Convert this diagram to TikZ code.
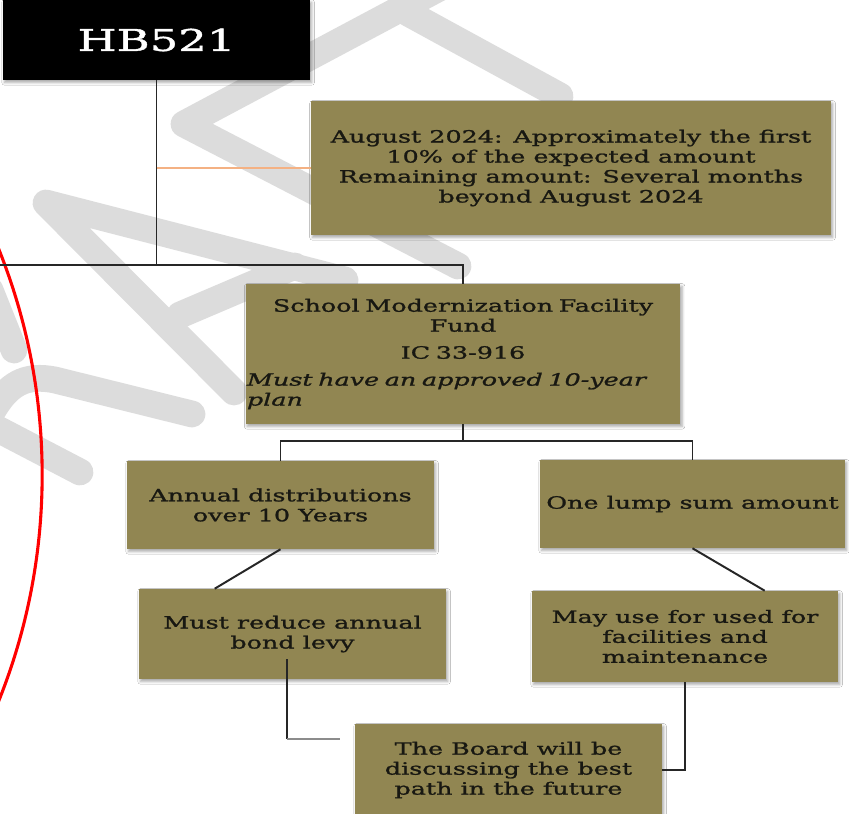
\documentclass[tikz,border=0pt]{standalone}
\usepackage{fontspec}
\setmainfont{DejaVu Serif}[FakeStretch=1.5, FakeBold=1.3]
\usetikzlibrary{calc,shadows.blur}
\definecolor{boxolive}{RGB}{145,134,82}
\definecolor{wmgray}{RGB}{220,220,220}
\definecolor{peach}{RGB}{244,177,131}
\definecolor{txtc}{RGB}{24,24,18}
\tikzset{
  shade3/.style={blur shadow={shadow xshift=0.04cm, shadow yshift=-0.06cm, shadow opacity=35, shadow blur radius=0.07cm}},
  box/.style={fill=boxolive, shade3, text=txtc, inner sep=1pt, font=\fontsize{12.05pt}{14.2pt}\selectfont},
  boxc/.style={box, align=center},
  hbbox/.style={fill=black, shade3, text=white, font=\fontsize{21.3pt}{24pt}\selectfont},
  conn/.style={draw=black!85, line width=1.4pt},
  wmark/.style={draw=wmgray, line width=19pt, line cap=round, line join=round},
}
\begin{document}
\begin{tikzpicture}[x=0.025cm, y=-0.025cm]
\useasboundingbox (0,0) rectangle (849,814);
\begin{scope}
\clip (0,0) rectangle (849,814);
\fill[white] (0,0) rectangle (849,814);
% watermark
\draw[wmark] (445,-15) -- (184,124) -- (458,266);
\draw[wmark] (408,13) -- (560,96);
\draw[wmark] (234,392) -- (46,203) -- (345,280);
\draw[wmark] (180,315) -- (295,266);
\draw[wmark] (-10,290) -- (14,350);
\draw[wmark] (-8,412) .. controls (8,384) and (25,374) .. (55,380) -- (192,414);
\draw[wmark] (-10,425) -- (80,472);
% red circle
\draw[red, line width=2.2pt] (-565,475) circle[radius=15.175cm];
% boxes
\node[hbbox, minimum width=7.675cm, minimum height=2cm] (hb) at (156.5,40) {HB521};
\node[boxc, minimum width=13cm, minimum height=3.35cm] (aug) at (571,168)
  {August 2024: Approximately the first\\10\% of the expected amount\\Remaining amount: Several months\\beyond August 2024};
\node[box, minimum width=10.85cm, minimum height=3.5cm, text width=10.8cm] (smff) at (463,354)
  {{\centering School Modernization Facility\\Fund\\[5pt]IC 33-916\\[5pt]\par}{\raggedright\itshape Must have an approved 10-year\\plan\par}};
\node[boxc, minimum width=7.675cm, minimum height=2.2cm] (annual) at (280.5,505)
  {Annual distributions\\over 10 Years};
\node[boxc, minimum width=7.625cm, minimum height=2.2cm] (lump) at (692.5,504)
  {One lump sum amount};
\node[boxc, minimum width=7.675cm, minimum height=2.25cm] (must) at (292.5,634)
  {Must reduce annual\\bond levy};
\node[boxc, minimum width=7.65cm, minimum height=2.275cm] (may) at (685,636.5)
  {May use for used for\\facilities and\\maintenance};
\node[boxc, minimum width=7.675cm, minimum height=2.3cm] (board) at (508.5,770)
  {The Board will be\\discussing the best\\path in the future};
% connectors
\coordinate (j1) at (156.5,265);
\coordinate (lend) at (-5,265);
\draw[conn] (hb.south) -- (j1);
\draw[conn] (j1) -- (lend);
\draw[conn] (j1) -| (smff.north);
\draw[peach, line width=1.1pt] (hb.south |- aug.west) -- (aug.west);
\coordinate (j2) at (463,441);
\draw[conn] (smff.south) -- (j2);
\draw[conn] (annual.north) |- (j2) -| (lump.north);
\draw[conn] (annual.south) -- ($(must.north west)+(76,0)$);
\draw[conn] (lump.south) -- ($(may.north west)+(233,0)$);
\coordinate (m1) at (287,659);
\coordinate (m2) at (287,739);
\coordinate (m3) at (340,739);
\draw[conn] (m1) -- (m2);
\draw[draw=black!45, line width=1.4pt] (m2) -- (m3);
\draw[conn] (may.south) |- (board.east);
\end{scope}
\end{tikzpicture}
\end{document}
